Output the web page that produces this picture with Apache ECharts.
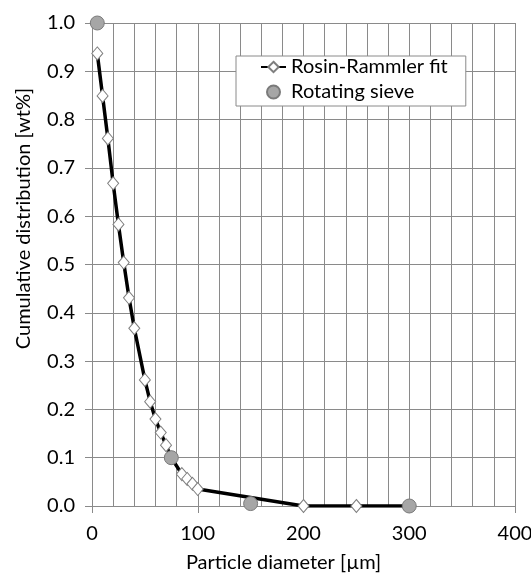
<!DOCTYPE html>
<html>
<head>
<meta charset="utf-8">
<script src="https://cdn.jsdelivr.net/npm/echarts@6/dist/echarts.min.js"></script>
<style>
	html, body { margin: 0; padding: 0; background: #fff; }
	#particleChart { width: 531px; height: 576px; }
</style>
</head>
<body>
<div id="particleChart"></div>
<script>
	// fit curve (diamonds)
	var fitDiameter = [5, 10, 15, 20, 25, 30, 35, 40, 50, 55, 60, 65, 70, 75, 85, 90, 95, 100, 200, 250, 300];
	var fitCumulative = [0.937, 0.849, 0.761, 0.668, 0.583, 0.504, 0.431, 0.368, 0.261, 0.216, 0.180, 0.152, 0.126, 0.100, 0.066, 0.056, 0.046, 0.035, 0.0, 0.0, 0.0];
	// measured points (circles)
	var sieveDiameter = [5, 75, 150, 300];
	var sieveCumulative = [1.0, 0.1, 0.005, 0.0];
	var seriesNames = ['Rosin-Rammler fit', 'Rotating sieve'];

	function pairs(xs, ys) {
		var out = [];
		for (var i = 0; i < xs.length; i++) {
			out.push([xs[i], ys[i]]);
		}
		return out;
	}

	var font = 'Lato, "Open Sans", sans-serif';
	var fontSize = 20;
	var gridColor = '#8a8a8a';

	var particleChart = echarts.init(document.getElementById('particleChart'));
	particleChart.setOption({
		animation: false,
		textStyle: {
			fontFamily: font,
			color: '#000'
		},
		grid: {
			left: 92,
			right: 16,
			top: 23,
			bottom: 70,
			containLabel: false,
			outerBoundsMode: 'none'
		},
		legend: {
			left: 236,
			top: 56,
			orient: 'vertical',
			data: seriesNames,
			backgroundColor: '#fff',
			borderColor: gridColor,
			borderWidth: 1,
			padding: [1, 18, 4, 24],
			itemGap: 5,
			itemWidth: 25,
			itemHeight: 13,
			textStyle: {
				fontFamily: font,
				fontSize: fontSize,
				color: '#000'
			}
		},
		xAxis: {
			type: 'value',
			min: 0,
			max: 400,
			interval: 100,
			name: 'Particle diameter [µm]',
			nameLocation: 'middle',
			nameGap: 47,
			nameTextStyle: {
				fontFamily: font,
				fontSize: fontSize,
				color: '#000',
				padding: [0, 40, 0, 0]
			},
			axisLine: {
				lineStyle: { color: gridColor, width: 1 }
			},
			axisTick: {
				show: true,
				length: 7,
				lineStyle: { color: gridColor }
			},
			axisLabel: {
				margin: 18,
				fontFamily: font,
				fontSize: fontSize,
				color: '#000'
			},
			splitLine: {
				show: true,
				lineStyle: { color: gridColor, width: 1 }
			},
			minorTick: {
				show: false,
				splitNumber: 5
			},
			minorSplitLine: {
				show: true,
				lineStyle: { color: gridColor, width: 1 }
			}
		},
		yAxis: {
			type: 'value',
			min: 0,
			max: 1,
			interval: 0.1,
			name: 'Cumulative distribution [wt%]',
			nameLocation: 'middle',
			nameRotate: 90,
			nameGap: 58,
			nameTextStyle: {
				fontFamily: font,
				fontSize: fontSize,
				color: '#000',
				padding: [0, 0, 0, 92]
			},
			axisLine: {
				show: true,
				lineStyle: { color: gridColor, width: 1 }
			},
			axisTick: {
				show: true,
				length: 7,
				lineStyle: { color: gridColor }
			},
			axisLabel: {
				margin: 17,
				fontFamily: font,
				fontSize: fontSize,
				color: '#000',
				formatter: function (v) { return v.toFixed(1); }
			},
			splitLine: {
				show: true,
				lineStyle: { color: gridColor, width: 1 }
			}
		},
		series: [
			{
				name: seriesNames[0],
				type: 'line',
				z: 2,
				data: pairs(fitDiameter, fitCumulative),
				symbol: 'diamond',
				symbolSize: [11, 13],
				showAllSymbol: true,
				lineStyle: {
					color: '#000',
					width: 3.5
				},
				itemStyle: {
					color: '#fff',
					borderColor: '#7f7f7f',
					borderWidth: 1
				}
			},
			{
				name: seriesNames[1],
				type: 'scatter',
				z: 5,
				data: pairs(sieveDiameter, sieveCumulative),
				symbol: 'circle',
				symbolSize: 14,
				itemStyle: {
					color: '#a6a6a6',
					borderColor: '#7a7a7a',
					borderWidth: 1,
					opacity: 1
				}
			}
		]
	});
</script>
</body>
</html>
